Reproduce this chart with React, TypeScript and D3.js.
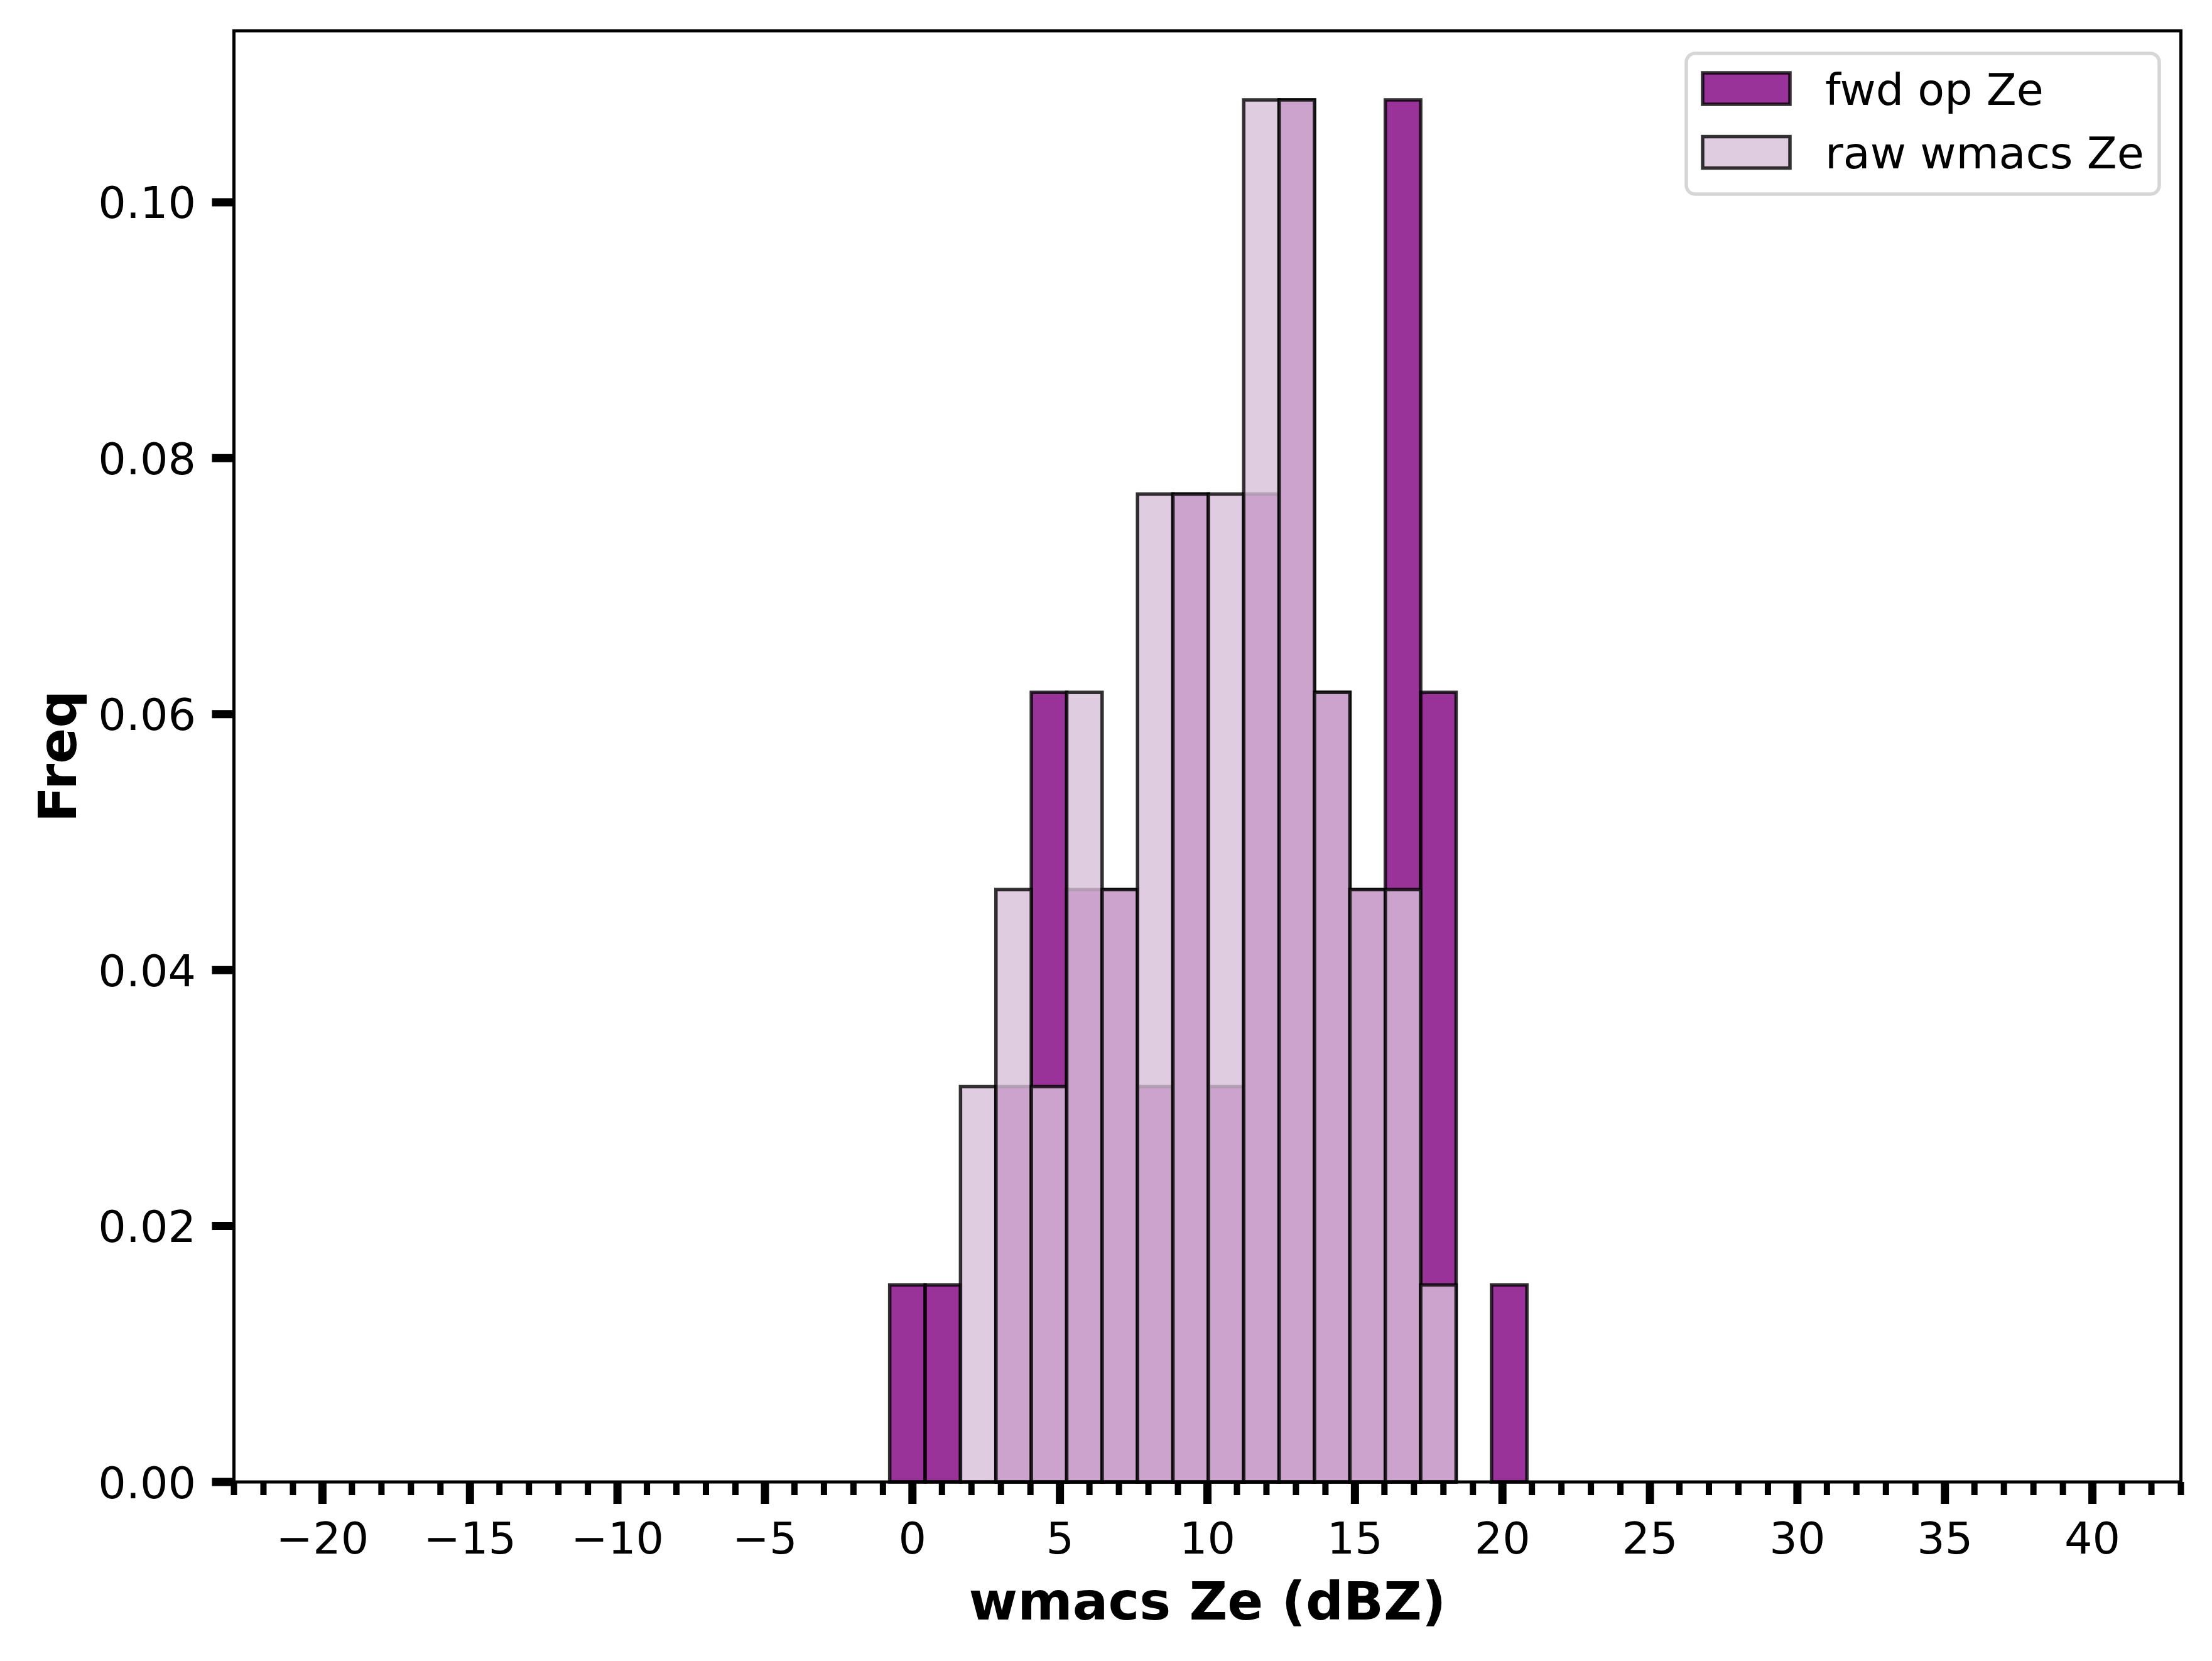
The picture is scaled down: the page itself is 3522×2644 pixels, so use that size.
import React, { useEffect, useRef } from 'react';
import * as d3 from 'd3';

// histogram bin edges (dBZ), shared by both series
const binEdges = [
  -0.77, 0.43, 1.63, 2.83, 4.03, 5.23, 6.43, 7.63, 8.83, 10.03,
  11.23, 12.43, 13.63, 14.83, 16.03, 17.23, 18.43, 19.63, 20.83,
];

// density per bin
const fwdFreq = [
  0.0154, 0.0154, 0, 0.0309, 0.0617, 0.0463, 0.0463, 0.0309, 0.0772,
  0.0309, 0.0772, 0.108, 0.0617, 0.0463, 0.108, 0.0617, 0, 0.0154,
];
const rawFreq = [
  0, 0, 0.0309, 0.0463, 0.0309, 0.0617, 0.0463, 0.0772, 0.0772,
  0.0772, 0.108, 0.108, 0.0617, 0.0463, 0.0463, 0.0154, 0, 0,
];

const xTicks = [-20, -15, -10, -5, 0, 5, 10, 15, 20, 25, 30, 35, 40];
const yTicks = [0, 0.02, 0.04, 0.06, 0.08, 0.1];

const seriesNames = ['fwd op Ze', 'raw wmacs Ze'];
const seriesColors = ['#800080', '#d8bfd8'];

const W = 3522;
const H = 2644;
const FONT = '"DejaVu Sans", sans-serif';

const App: React.FC = () => {
  const svgRef = useRef<SVGSVGElement>(null);

  useEffect(() => {
    document.body.style.margin = '0';
    if (!svgRef.current) return;

    const left = 372.5, right = 3472.5, top = 49, bottom = 2359;

    const svg = d3.select(svgRef.current);
    svg.selectAll('*').remove();

    svg.append('rect').attr('width', W).attr('height', H).attr('fill', '#fff');

    const x = d3.scaleLinear().domain([-23, 43]).range([left, right]);
    const y = d3.scaleLinear().domain([0, 0.1134]).range([bottom, top]);

    // bars: fwd first, raw drawn on top
    [fwdFreq, rawFreq].forEach((vals, s) => {
      const bins = vals
        .map((v, i) => ({ x0: binEdges[i], x1: binEdges[i + 1], v }))
        .filter(b => b.v > 0);
      svg.append('g')
        .selectAll('rect')
        .data(bins)
        .enter()
        .append('rect')
        .attr('x', d => x(d.x0))
        .attr('width', d => x(d.x1) - x(d.x0))
        .attr('y', d => y(d.v))
        .attr('height', d => y(0) - y(d.v))
        .attr('fill', seriesColors[s])
        .attr('fill-opacity', 0.8)
        .attr('stroke', '#000')
        .attr('stroke-opacity', 0.8)
        .attr('stroke-width', 5.5);
    });

    // frame
    svg.append('rect')
      .attr('x', left).attr('y', top)
      .attr('width', right - left).attr('height', bottom - top)
      .attr('fill', 'none').attr('stroke', '#000').attr('stroke-width', 5);

    // x minor ticks
    const minor = d3.range(-23, 44).filter(v => v % 5 !== 0);
    svg.append('g')
      .selectAll('line')
      .data(minor)
      .enter()
      .append('line')
      .attr('x1', d => x(d)).attr('x2', d => x(d))
      .attr('y1', bottom).attr('y2', bottom + 21)
      .attr('stroke', '#000').attr('stroke-width', 10);

    // x major ticks + labels
    const xg = svg.append('g');
    xg.selectAll('line')
      .data(xTicks)
      .enter()
      .append('line')
      .attr('x1', d => x(d)).attr('x2', d => x(d))
      .attr('y1', bottom).attr('y2', bottom + 35)
      .attr('stroke', '#000').attr('stroke-width', 13);
    xg.selectAll('text')
      .data(xTicks)
      .enter()
      .append('text')
      .attr('x', d => x(d))
      .attr('y', 2473)
      .attr('text-anchor', 'middle')
      .style('font-family', FONT)
      .style('font-size', '70px')
      .text(d => (d < 0 ? '\u2212' + Math.abs(d) : String(d)));

    // y ticks + labels
    const yg = svg.append('g');
    yg.selectAll('line')
      .data(yTicks)
      .enter()
      .append('line')
      .attr('x1', left - 35).attr('x2', left)
      .attr('y1', d => y(d)).attr('y2', d => y(d))
      .attr('stroke', '#000').attr('stroke-width', 13);
    yg.selectAll('text')
      .data(yTicks)
      .enter()
      .append('text')
      .attr('x', 312)
      .attr('y', d => y(d) + 25.5)
      .attr('text-anchor', 'end')
      .style('font-family', FONT)
      .style('font-size', '70px')
      .text(d => d3.format('.2f')(d));

    // axis labels
    svg.append('text')
      .attr('x', (left + right) / 2)
      .attr('y', 2578)
      .attr('text-anchor', 'middle')
      .style('font-family', FONT)
      .style('font-size', '84px')
      .style('font-weight', 'bold')
      .text('wmacs Ze (dBZ)');

    svg.append('text')
      .attr('transform', `translate(121, ${(top + bottom) / 2}) rotate(-90)`)
      .attr('text-anchor', 'middle')
      .style('font-family', FONT)
      .style('font-size', '84px')
      .style('font-weight', 'bold')
      .text('Freq');

    // legend
    const lg = svg.append('g');
    lg.append('rect')
      .attr('x', 2685).attr('y', 85)
      .attr('width', 753).attr('height', 224)
      .attr('rx', 14)
      .attr('fill', '#fff').attr('fill-opacity', 0.8)
      .attr('stroke', '#d6d6d6').attr('stroke-width', 5.5);

    seriesNames.forEach((name, i) => {
      const cy = 141 + i * 101.5;
      lg.append('rect')
        .attr('x', 2711).attr('y', cy - 25)
        .attr('width', 139).attr('height', 50)
        .attr('fill', seriesColors[i]).attr('fill-opacity', 0.8)
        .attr('stroke', '#000').attr('stroke-opacity', 0.8)
        .attr('stroke-width', 5.5);
      lg.append('text')
        .attr('x', 2906)
        .attr('y', cy + 25.5)
        .style('font-family', FONT)
        .style('font-size', '70px')
        .text(name);
    });
  }, []);

  return <svg ref={svgRef} width={W} height={H} style={{ display: 'block' }} />;
};

export default App;
